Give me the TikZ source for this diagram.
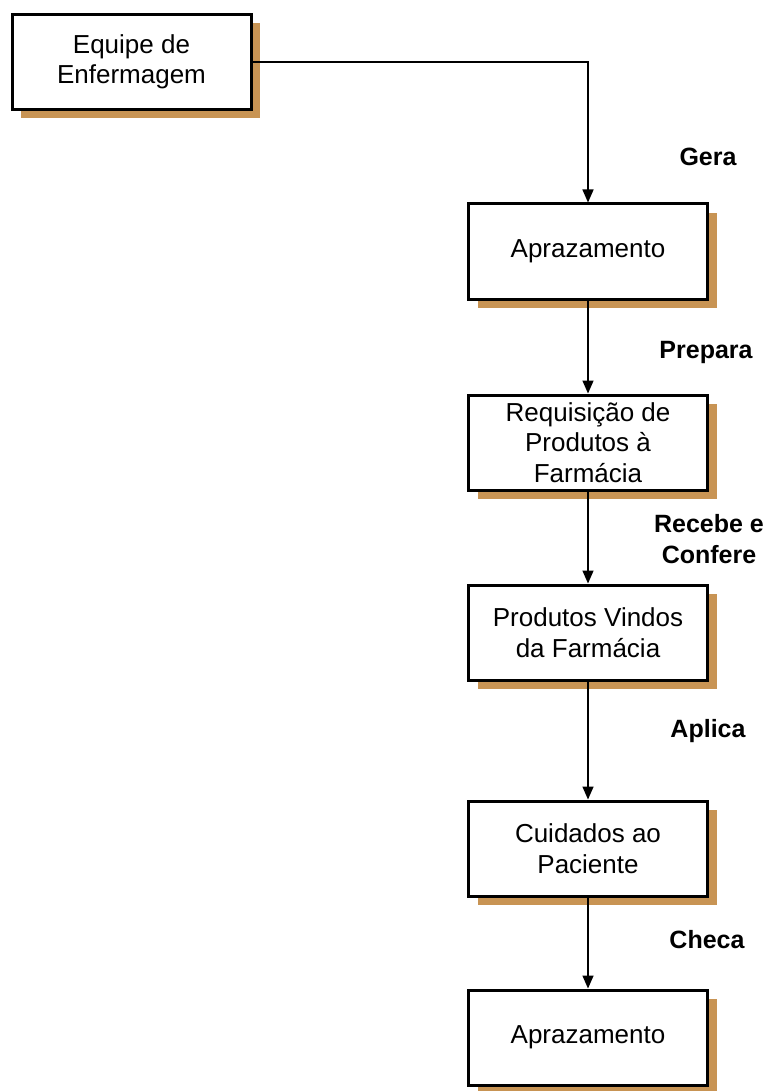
\documentclass[tikz,border=0pt]{standalone}
\usepackage{fontspec}
\setmainfont{Liberation Sans}
\usetikzlibrary{arrows.meta,shadows}
\definecolor{shade}{RGB}{200,148,84}
\tikzset{
  stepbox/.style={draw=black, line width=3pt, fill=white,
    minimum width=239pt, minimum height=95pt, align=center,
    font=\fontsize{26}{30.5}\selectfont,
    drop shadow={shadow xshift=9pt, shadow yshift=-9pt, fill=shade, opacity=1}},
  act/.style={font=\fontsize{25}{31}\selectfont\bfseries, align=center},
  flow/.style={draw=black, line width=1.5pt,
    -{Triangle[width=11pt,length=13pt]}}
}
\begin{document}
\begin{tikzpicture}[x=1pt,y=-1pt]
  \useasboundingbox (0,0) rectangle (768,1091);
  \fill[white] (0,0) rectangle (768,1091);

  % process boxes
  \node[stepbox] (equipe) at (131.5,62)   {Equipe de\\Enfermagem};
  \node[stepbox] (apraz1) at (588,251.5)  {Aprazamento};
  \node[stepbox] (requis) at (588,442.5)  {Requisição de\\Produtos à\\Farmácia};
  \node[stepbox] (produt) at (588,632.5)  {Produtos Vindos\\da Farmácia};
  \node[stepbox] (cuidad) at (588,848.5)  {Cuidados ao\\Paciente};
  \node[stepbox] (apraz2) at (588,1037.5) {Aprazamento};

  % actions
  \node[act] (gera)    at (708,157) {Gera};
  \node[act] (prepara) at (706,352) {Prepara};
  \node[act] (recebe)  at (709,539) {Recebe e\\Confere};
  \node[act] (aplica)  at (708,731) {Aplica};
  \node[act] (checa)   at (707,940) {Checa};

  % flow
  \draw[flow] (equipe.east) -| (apraz1.north);
  \draw[flow] (apraz1.south) -- (requis.north);
  \draw[flow] (requis.south) -- (produt.north);
  \draw[flow] (produt.south) -- (cuidad.north);
  \draw[flow] (cuidad.south) -- (apraz2.north);
\end{tikzpicture}
\end{document}
